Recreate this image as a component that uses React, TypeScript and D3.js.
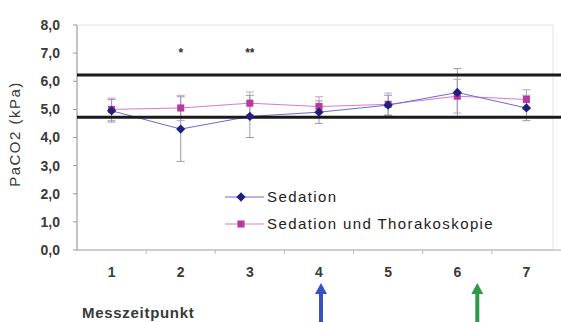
import React from "react";
import * as d3 from "d3";

// Messzeitpunkte
const timepoints = ["1", "2", "3", "4", "5", "6", "7"];
const yTicks = [0, 1, 2, 3, 4, 5, 6, 7, 8];

// PaCO2 in kPa
const sedation = [4.95, 4.3, 4.75, 4.9, 5.15, 5.6, 5.05];
const sedationSd = [0.4, 1.15, 0.75, 0.4, 0.35, 0.85, 0.45];
const thorako = [5.0, 5.05, 5.22, 5.1, 5.18, 5.47, 5.35];
const thorakoSd = [0.4, 0.45, 0.4, 0.35, 0.4, 0.6, 0.35];

// Referenzbereich
const refLines = [6.22, 4.72];
const signif = [
  { t: "2", label: "*" },
  { t: "3", label: "**" },
];
const arrows = [
  { t: "4", color: "#3b4fc4", dx: 2 },
  { t: "6", color: "#2e9a48", dx: 20 },
];

const W = 561;
const H = 322;
const margin = { top: 25, right: 0, bottom: 72, left: 77 };

const App = () => {
  const x = d3
    .scaleBand()
    .domain(timepoints)
    .range([margin.left, W - margin.right]);
  const y = d3
    .scaleLinear()
    .domain([0, 8])
    .range([H - margin.bottom, margin.top]);

  const cx = (t: string) => (x(t) as number) + x.bandwidth() / 2;

  const line = d3
    .line<number>()
    .x((_, i) => cx(timepoints[i]))
    .y((d) => y(d));

  const font = "'Liberation Sans', Arial, sans-serif";
  const textCol = "#3a3a3a";

  const errBars = (vals: number[], sd: number[], col: string) =>
    vals.map((v, i) => {
      const px = cx(timepoints[i]);
      return (
        <g key={i} stroke={col} strokeWidth={1}>
          <line x1={px} x2={px} y1={y(v + sd[i])} y2={y(v - sd[i])} />
          <line x1={px - 4} x2={px + 4} y1={y(v + sd[i])} y2={y(v + sd[i])} />
          <line x1={px - 4} x2={px + 4} y1={y(v - sd[i])} y2={y(v - sd[i])} />
        </g>
      );
    });

  const diamond = d3.symbol(d3.symbolDiamond2, 55)();
  const square = d3.symbol(d3.symbolSquare, 50)();

  return (
    <svg
      width={W}
      height={H}
      style={{ position: "absolute", left: 0, top: 0, background: "#fff" }}
      fontFamily={font}
    >
      {/* plot frame */}
      <rect
        x={margin.left}
        y={margin.top}
        width={W - margin.left - margin.right - 8}
        height={y(0) - margin.top}
        fill="#fff"
        stroke="#e2e2e2"
      />
      {/* axes */}
      <line x1={margin.left} x2={margin.left} y1={margin.top} y2={y(0)} stroke="#999" />
      <line x1={margin.left} x2={W} y1={y(0)} y2={y(0)} stroke="#aaa" />
      {yTicks.map((t) => (
        <g key={t}>
          <line x1={margin.left - 4} x2={margin.left} y1={y(t)} y2={y(t)} stroke="#999" />
          <text
            x={60}
            y={y(t)}
            dy="0.35em"
            textAnchor="end"
            fontSize={14}
            fontWeight="bold"
            fill={textCol}
          >
            {t.toFixed(1).replace(".", ",")}
          </text>
        </g>
      ))}
      {timepoints.map((t, i) => (
        <g key={t}>
          {i > 0 && (
            <line
              x1={x(t) as number}
              x2={x(t) as number}
              y1={y(0)}
              y2={y(0) + 4}
              stroke="#bbb"
            />
          )}
          <text
            x={cx(t)}
            y={y(0) + 27}
            textAnchor="middle"
            fontSize={14}
            fontWeight="bold"
            fill={textCol}
          >
            {t}
          </text>
        </g>
      ))}
      <text
        transform={`translate(20,134) rotate(-90)`}
        textAnchor="middle"
        fontSize={15}
        letterSpacing={1.5}
        fill={textCol}
      >
        PaCO2 (kPa)
      </text>
      <text
        x={82}
        y={318}
        fontSize={15}
        fontWeight="bold"
        letterSpacing={0.7}
        fill={textCol}
      >
        Messzeitpunkt
      </text>

      {/* error bars */}
      {errBars(thorako, thorakoSd, "#c8a0c0")}
      {errBars(sedation, sedationSd, "#9a9ab4")}

      {/* series */}
      <path d={line(thorako) as string} fill="none" stroke="#d67ad0" strokeWidth={1} />
      <path d={line(sedation) as string} fill="none" stroke="#6a6ad8" strokeWidth={1} />

      {/* reference lines */}
      {refLines.map((r) => (
        <line
          key={r}
          x1={margin.left}
          x2={W}
          y1={y(r)}
          y2={y(r)}
          stroke="#1a1a1a"
          strokeWidth={3}
        />
      ))}

      {thorako.map((v, i) => (
        <path
          key={"p" + i}
          d={square as string}
          transform={`translate(${cx(timepoints[i])},${y(v)})`}
          fill="#b8399f"
        />
      ))}
      {sedation.map((v, i) => (
        <path
          key={"b" + i}
          d={diamond as string}
          transform={`translate(${cx(timepoints[i])},${y(v)})`}
          fill="#1f1f80"
        />
      ))}

      {signif.map((s) => (
        <text
          key={s.t}
          x={cx(s.t)}
          y={y(6.85)}
          textAnchor="middle"
          fontSize={12}
          fontWeight="bold"
          fill="#333"
        >
          {s.label}
        </text>
      ))}

      {/* legend */}
      {[
        { label: "Sedation", col: "#6a6ad8", mk: diamond, fill: "#1f1f80" },
        { label: "Sedation und Thorakoskopie", col: "#d67ad0", mk: square, fill: "#b8399f" },
      ].map((l, i) => {
        const ly = 197 + i * 27;
        return (
          <g key={l.label}>
            <line x1={225} x2={264} y1={ly} y2={ly} stroke={l.col} strokeWidth={1} />
            <path d={l.mk as string} transform={`translate(241,${ly})`} fill={l.fill} />
            <text
              x={267}
              y={ly}
              dy="0.35em"
              fontSize={15}
              letterSpacing={1.4}
              fill="#222"
            >
              {l.label}
            </text>
          </g>
        );
      })}

      {/* arrows */}
      {arrows.map((a) => {
        const ax = cx(a.t) + a.dx;
        return (
          <g key={a.t} fill={a.color} stroke={a.color}>
            <line x1={ax} x2={ax} y1={293} y2={H} strokeWidth={4} />
            <path d={`M${ax - 6},${294} L${ax},${283} L${ax + 6},${294} Z`} stroke="none" />
          </g>
        );
      })}
    </svg>
  );
};

export default App;
